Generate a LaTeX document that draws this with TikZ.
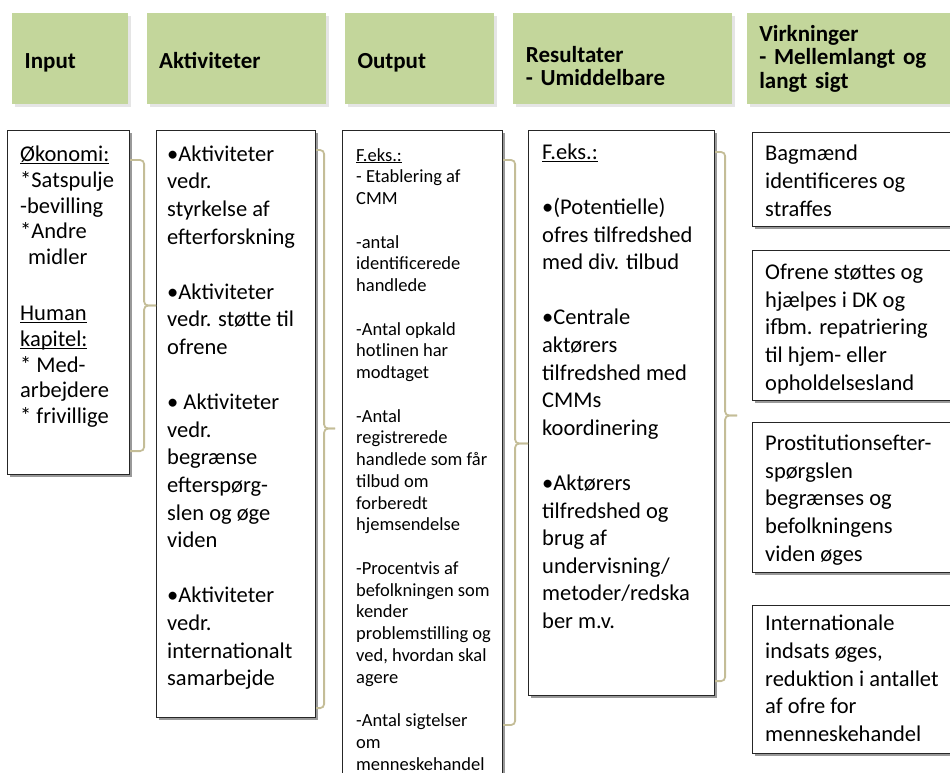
\documentclass[tikz,border=0pt]{standalone}
\usepackage{fontspec}
\setmainfont{Carlito}
\usetikzlibrary{positioning, calc, shadows}
\definecolor{title}{RGB}{195,214,155}
\definecolor{bracket}{RGB}{196,189,151}
\definecolor{frame}{RGB}{38,38,38}
\newsavebox\ulbox
\newcommand{\ulin}[1]{\sbox\ulbox{#1}\rlap{\rule[-2.4pt]{\wd\ulbox}{1.1pt}}\usebox\ulbox}

\begin{document}
\begin{tikzpicture}[x=1pt, y=-1pt]
  \tikzstyle{head} = [rectangle, fill=title, anchor=north west, minimum height=91pt,
      inner xsep=12.5pt, align=left, font=\bfseries\fontsize{23}{23.5}\selectfont,
      execute at begin node=\strut,
      drop shadow={shadow xshift=3pt, shadow yshift=-3pt, fill=black!10, opacity=1}]
  \tikzstyle{box} = [rectangle, draw=frame, fill=white, line width=1.1pt, anchor=north west,
      inner sep=0pt, drop shadow={shadow xshift=2pt, shadow yshift=-2pt, fill=black!40, opacity=1}]
  \tikzstyle{txt} = [anchor=north west, inner sep=0pt, align=left,
      font=\fontsize{22.5}{27.6}\selectfont, execute at begin node=\strut]
  \tikzstyle{brace} = [draw=bracket, line width=1.8pt, rounded corners=4pt]
  \useasboundingbox (0,0) rectangle (950,773);
  \clip (0,0) rectangle (950,773);

      % Place headers
      \node [head, text width=91pt] (hin) at (12,13) {\rule{0pt}{26.5pt}Input};
      \node [head, text width=154pt, right=18pt of hin] (hakt) {\rule{0pt}{26.5pt}Aktiviteter};
      \node [head, text width=124pt, right=19pt of hakt] (hout) {\rule{0pt}{26.5pt}Output};
      \node [head, text width=194pt, right=19pt of hout] (hres) {\rule{0pt}{30.5pt}Resultater\\- Umiddelbare};
      \node [head, text width=200pt, right=14pt of hres] (hvirk) {Virkninger\\- Mellemlangt og\\langt sigt};

      % Place boxes
      \node [box, minimum width=122pt, minimum height=344pt] (in) at (7,130) {};
      \node [box, minimum width=159pt, minimum height=587pt] (akt) at (156,130) {};
      \node [box, minimum width=160pt, minimum height=660pt] (out) at (342,130) {};
      \node [box, minimum width=186pt, minimum height=565pt] (res) at (528,130) {};
      \node [box, minimum width=215pt, minimum height=94pt] (v1) at (752,132) {};
      \node [box, minimum width=215pt, minimum height=150pt] (v2) at (752,250) {};
      \node [box, minimum width=215pt, minimum height=150pt] (v3) at (752,422) {};
      \node [box, minimum width=215pt, minimum height=148pt] (v4) at (752,605) {};

      % Texts
      \node [txt, font=\fontsize{22.5}{25.7}\selectfont] (intxt) at ($(in.north west)+(13,16)$)
          {\ulin{Økonomi:}\\{*}Satspulje\\-bevilling\\{*}Andre\\\hspace*{8pt}midler\\[30.5pt]%
           \ulin{Human}\\\ulin{kapitel:}\\{*} Med-\\arbejdere\\{*} frivillige};
      \node [txt] (akttxt) at ($(akt.north west)+(11,15.5)$)
          {•Aktiviteter\\vedr.\\styrkelse af\\efterforskning\\[27.6pt]%
           •Aktiviteter\\vedr. støtte til\\ofrene\\[27.6pt]%
           • Aktiviteter\\vedr.\\begrænse\\efterspørg-\\slen og øge\\viden\\[27.6pt]%
           •Aktiviteter\\vedr.\\internationalt\\samarbejde};
      \node [txt, font=\fontsize{18.5}{21.75}\selectfont] (outtxt) at ($(out.north west)+(14,18)$)
          {\ulin{F.eks.:}\\- Etablering af\\CMM\\[21.75pt]%
           -antal\\identificerede\\handlede\\[21.75pt]%
           -Antal opkald\\hotlinen har\\modtaget\\[21.75pt]%
           -Antal\\registrerede\\handlede som får\\tilbud om\\forberedt\\hjemsendelse\\[21.75pt]%
           -Procentvis af\\befolkningen som\\kender\\problemstilling og\\ved, hvordan skal\\agere\\[21.75pt]%
           -Antal sigtelser\\om\\menneskehandel};
      \node [txt] (restxt) at ($(res.north west)+(14,13.5)$)
          {\ulin{F.eks.:}\\[27.6pt]%
           •(Potentielle)\\ofres tilfredshed\\med div. tilbud\\[27.6pt]%
           •Centrale\\aktørers\\tilfredshed med\\CMMs\\koordinering\\[27.6pt]%
           •Aktørers\\tilfredshed og\\brug af\\undervisning/\\metoder/redska\\ber m.v.};
      \node [txt] (v1txt) at ($(v1.north west)+(13,13)$) {Bagmænd\\identificeres og\\straffes};
      \node [txt] (v2txt) at ($(v2.north west)+(13,14)$)
          {Ofrene støttes og\\hjælpes i DK og\\ifbm. repatriering\\til hjem- eller\\opholdelsesland};
      \node [txt] (v3txt) at ($(v3.north west)+(13,13)$)
          {Prostitutionsefter-\\spørgslen\\begrænses og\\befolkningens\\viden øges};
      \node [txt] (v4txt) at ($(v4.north west)+(13,10)$)
          {Internationale\\indsats øges,\\reduktion i antallet\\af ofre for\\menneskehandel};

  %brackets
      \draw [brace] ($(in.north east)+(0,30)$) -- ++(14,0) |- ($(in.east -| akt.west)+(0,3)$);
      \draw [brace] ($(in.south east)+(0,-24)$) -- ++(14,0) |- ($(in.east -| akt.west)+(0,3)$);
      \draw [brace] ($(akt.north east)+(0,20)$) -- ++(8,0) |- ($(akt.east -| out.west)+(-7,4.5)$);
      \draw [brace] ($(akt.south east)+(0,-10)$) -- ++(8,0) |- ($(akt.east -| out.west)+(-7,4.5)$);
      \draw [brace] ($(out.north east)+(0,30)$) -- ++(12,0) |- ($(res.west)+(0,30.5)$);
      \draw [brace] ($(out.north east)+(0,595)$) -- ++(12,0) |- ($(res.west)+(0,30.5)$);
      \coordinate (virkin) at ($(res.east)+(22,2.5)$);
      \draw [brace] ($(res.north east)+(0,22)$) -- ++(10,0) |- (virkin);
      \draw [brace] ($(res.south east)+(0,-15)$) -- ++(10,0) |- (virkin);

\end{tikzpicture}
\end{document}
